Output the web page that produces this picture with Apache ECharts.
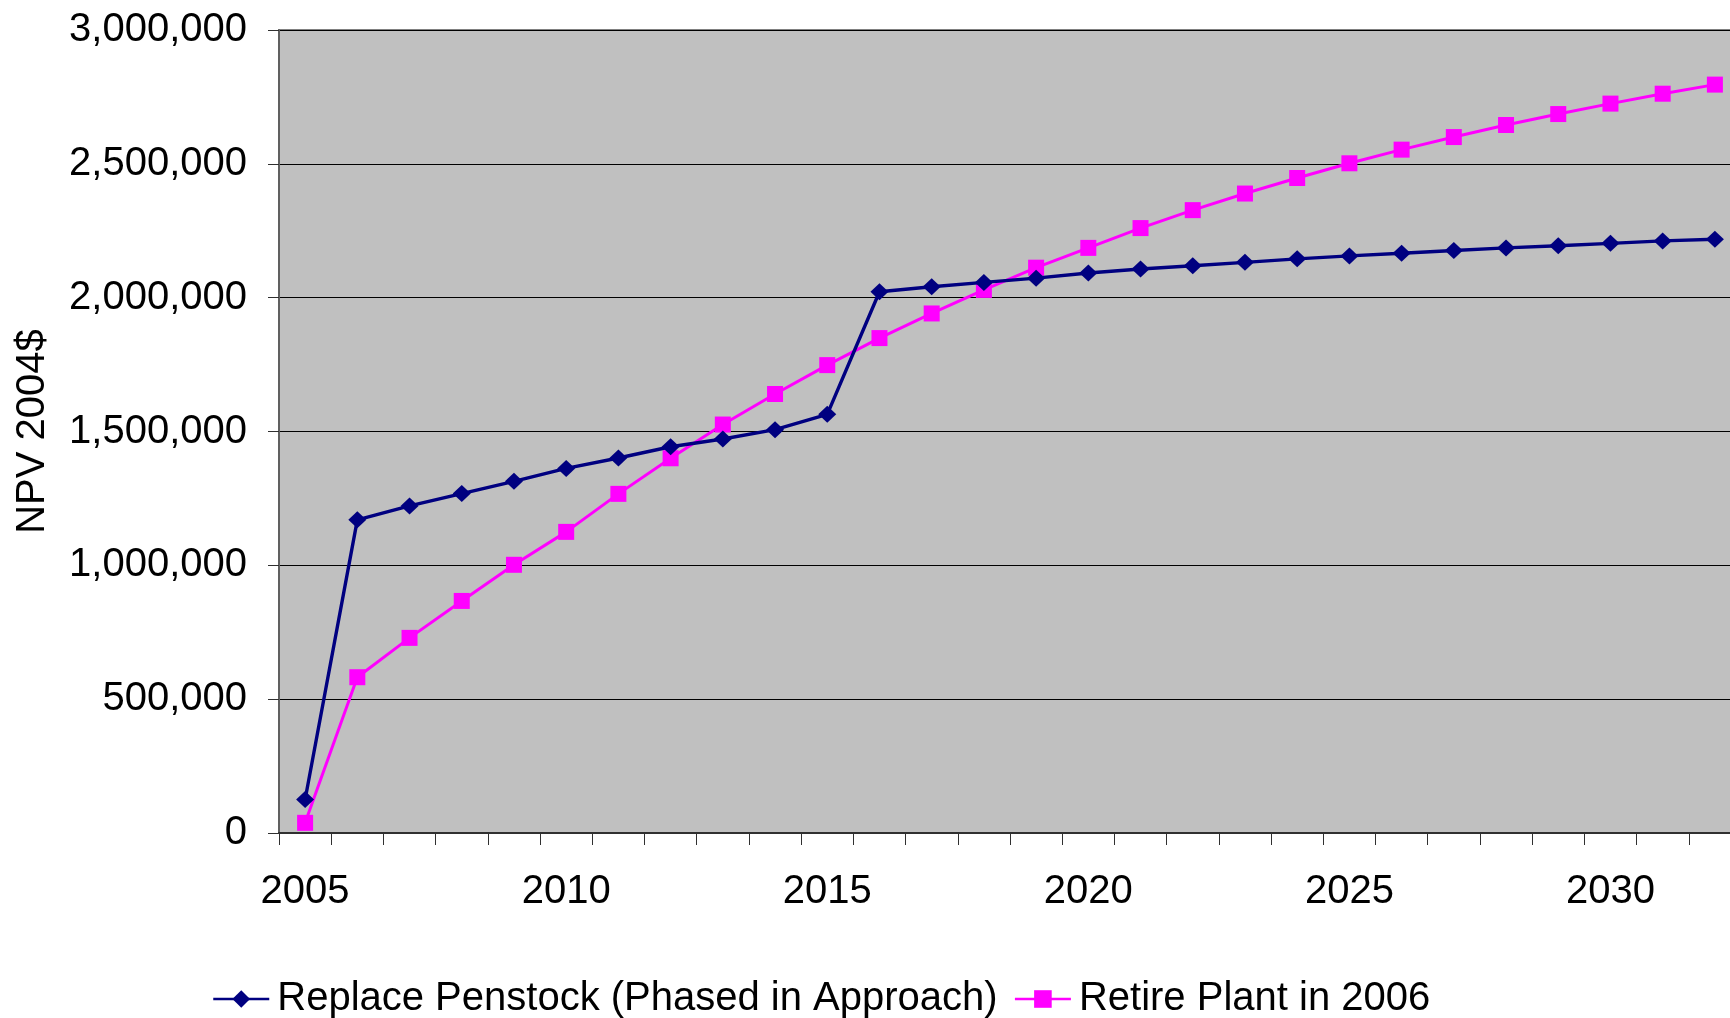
<!DOCTYPE html>
<html>
<head>
<meta charset="utf-8">
<title>NPV 2004$</title>
<script src="https://cdn.jsdelivr.net/npm/echarts@6/dist/echarts.min.js"></script>
<style>
  html, body { margin: 0; padding: 0; background: #ffffff; }
  #chart { width: 1730px; height: 1018px; }
</style>
</head>
<body>
<div id="chart"></div>
<script>
// Years on the category axis
const years = ['2005','2006','2007','2008','2009','2010','2011','2012','2013','2014',
  '2015','2016','2017','2018','2019','2020','2021','2022','2023','2024',
  '2025','2026','2027','2028','2029','2030','2031','2032'];

// Cumulative NPV (2004 dollars) per option
const replacePenstock = [125000, 1170000, 1222000, 1268000, 1314000, 1362000, 1401000, 1443000,
  1472000, 1507000, 1564000, 2022000, 2041000, 2057000, 2073000, 2092000, 2107000, 2119000,
  2132000, 2145000, 2156000, 2166000, 2176000, 2186000, 2194000, 2203000, 2212000, 2218000];

const retirePlant = [38000, 582000, 729000, 867000, 1002000, 1125000, 1267000, 1400000,
  1526000, 1640000, 1748000, 1849000, 1941000, 2029000, 2112000, 2186000, 2260000, 2327000,
  2389000, 2447000, 2502000, 2553000, 2600000, 2645000, 2686000, 2725000, 2762000, 2796000];

// Value axis ticks
const yMin = 0;
const yMax = 3000000;
const yStep = 500000;

const seriesNames = ['Replace Penstock (Phased in Approach)', 'Retire Plant in 2006'];

const FONT = "'Liberation Sans', Arial, sans-serif";

const chart = echarts.init(document.getElementById('chart'), null, { renderer: 'canvas' });

chart.setOption({
  animation: false,
  backgroundColor: '#ffffff',
  textStyle: { fontFamily: FONT },
  grid: {
    left: 279,
    top: 30,
    width: 1462,
    height: 803,
    containLabel: false,
    outerBoundsMode: 'none',
    show: true,
    backgroundColor: '#C0C0C0',
    borderColor: '#808080',
    borderWidth: 2
  },
  legend: {
    left: 207,
    top: 974,
    itemWidth: 56,
    itemHeight: 22,
    itemGap: 16,
    lineStyle: { width: 2.5 },
    textStyle: { fontSize: 40, color: '#000', fontFamily: FONT, padding: [0, 0, 0, 3] },
    data: seriesNames
  },
  xAxis: {
    type: 'category',
    data: years,
    boundaryGap: true,
    axisLine: { show: true, lineStyle: { color: '#303030', width: 2 } },
    axisTick: { show: true, interval: 0, length: 12, lineStyle: { color: '#303030', width: 1 } },
    axisLabel: {
      interval: (idx, val) => Number(val) % 5 === 0,
      fontSize: 40,
      color: '#000',
      margin: 39,
      fontFamily: FONT
    },
    splitLine: { show: false }
  },
  yAxis: {
    type: 'value',
    min: yMin,
    max: yMax,
    interval: yStep,
    name: 'NPV 2004$',
    nameLocation: 'middle',
    nameGap: 226,
    nameTextStyle: { fontSize: 40, color: '#000', fontFamily: FONT },
    axisLine: { show: true, lineStyle: { color: '#606060', width: 2 } },
    axisTick: { show: true, length: 11, lineStyle: { color: '#303030', width: 1 } },
    axisLabel: {
      fontSize: 40,
      color: '#000',
      margin: 32,
      fontFamily: FONT,
      formatter: v => v.toLocaleString('en-US')
    },
    splitLine: { show: true, lineStyle: { color: '#000000', width: 1 } }
  },
  series: [
    {
      name: seriesNames[0],
      type: 'line',
      data: replacePenstock,
      symbol: 'diamond',
      symbolSize: [18, 17],
      itemStyle: { color: '#000080' },
      lineStyle: { color: '#000080', width: 3.4 },
      z: 3
    },
    {
      name: seriesNames[1],
      type: 'line',
      data: retirePlant,
      symbol: 'rect',
      symbolSize: [16, 16],
      itemStyle: { color: '#FF00FF' },
      lineStyle: { color: '#FF00FF', width: 3 },
      z: 2
    }
  ]
});
</script>
</body>
</html>
